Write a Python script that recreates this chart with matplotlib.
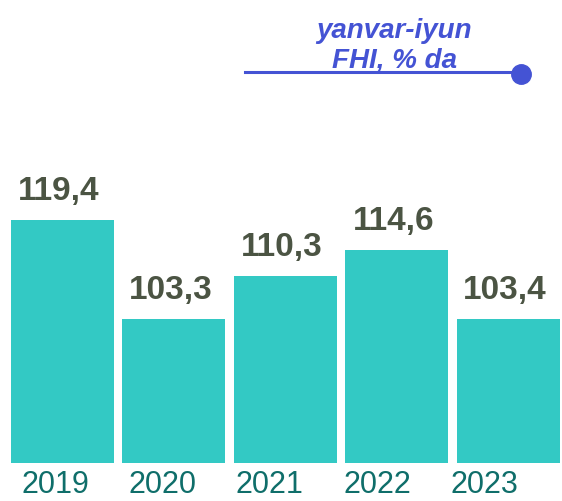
import matplotlib.pyplot as plt
from matplotlib.transforms import blended_transform_factory

years = ['2019', '2020', '2021', '2022', '2023']
values = [119.4, 103.3, 110.3, 114.6, 103.4]
labels = ['119,4', '103,3', '110,3', '114,6', '103,4']
title_lines = ['yanvar-iyun', 'FHI, % da']

bar_color = '#33C9C4'
label_color = '#4B5443'
year_color = '#0F6E6A'
blue = '#4453D4'

plt.rcParams['font.family'] = ['Liberation Sans', 'DejaVu Sans']

fig = plt.figure(figsize=(5.62, 5.01), dpi=100)
ax = fig.add_axes([0, 0, 1, 1])
ax.set_xlim(-0.56, 4.48)
ax.set_ylim(73.84, 155.04)
ax.axis('off')

base = 80
x = list(range(len(values)))
ax.bar(x, [v - base for v in values], bottom=base, width=0.924, color=bar_color)

# value labels above bars
for i, v in enumerate(values):
    ax.annotate(labels[i], (i, v), xytext=(-2.5, 14.4), textcoords='offset points',
                ha='center', va='baseline', fontsize=24, fontweight='bold',
                color=label_color)

# year labels along bottom (slightly tighter spacing than bars)
tr = blended_transform_factory(ax.transAxes, ax.transAxes)
for i, yr in enumerate(years):
    ax.text((55 + i * 107.4) / 562, 1 / 501, yr, transform=tr,
            ha='center', va='bottom', fontsize=22, color=year_color)

# title with line and dot
ax.text(394 / 562, 1 - 38 / 501, title_lines[0], transform=ax.transAxes,
        ha='center', va='baseline', fontsize=20, fontweight='bold',
        fontstyle='italic', color=blue)
ax.text(394 / 562, 1 - 68 / 501, title_lines[1], transform=ax.transAxes,
        ha='center', va='baseline', fontsize=20, fontweight='bold',
        fontstyle='italic', color=blue)
ax.plot([245 / 562, 520 / 562], [1 - 72 / 501, 1 - 72 / 501], transform=ax.transAxes,
        color=blue, lw=2.2, clip_on=False)
ax.plot([521 / 562], [1 - 74 / 501], 'o', transform=ax.transAxes, color=blue,
        ms=14, clip_on=False)

fig.savefig('out.png', dpi=100)
